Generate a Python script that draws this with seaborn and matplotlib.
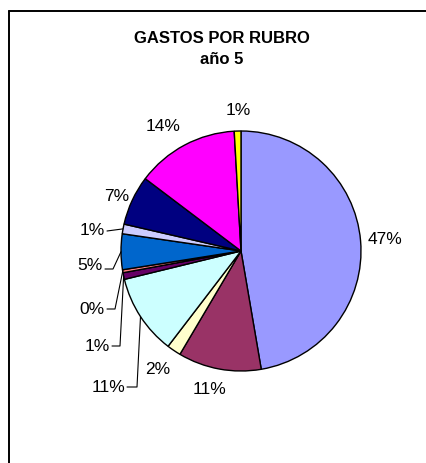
import matplotlib
matplotlib.use("Agg")
import matplotlib.pyplot as plt
import seaborn as sns
import numpy as np

# data (share of each expense item, year 5)
shares = [47.3, 11.2, 1.9, 10.8, 0.9, 0.4, 4.8, 1.3, 6.7, 13.8, 0.9]
pct_labels = ["47%", "11%", "2%", "11%", "1%", "0%", "5%", "1%", "7%", "14%", "1%"]
colors = ["#9999FF", "#993366", "#FFFFCC", "#CCFFFF", "#660066", "#FF8080",
          "#0066CC", "#CCCCFF", "#000080", "#FF00FF", "#FFFF00"]

sns.set_theme(style="white")
plt.rcParams['font.family'] = ['Liberation Sans', 'DejaVu Sans']
plt.rcParams['text.color'] = 'black'

W, H = 427, 464
fig = plt.figure(figsize=(W / 100, H / 100), dpi=100)

# pie geometry in pixels
cx, cy, R = 241.0, 252.0, 120.0
ax = fig.add_axes([(cx - R) / W, (H - cy - R) / H, 2 * R / W, 2 * R / H])

wedges, _ = ax.pie(shares, colors=colors, startangle=90, counterclock=False,
                   radius=1.0, wedgeprops=dict(edgecolor='black', linewidth=1.0))
ax.set_xlim(-1, 1)
ax.set_ylim(-1, 1)
ax.set_aspect('equal')
ax.axis('off')


def px(x, y):
    return (x - cx) / R, (cy - y) / R


# label layout in pixels: centre for plain labels, right end for leader labels
label_pos = [(385, 240), (210, 390), (158, 370), (125, 388), (110, 347),
             (105, 310), (103, 266), (105, 231), (117, 197), (163, 127), (238, 111)]
leader = [False, False, False, True, True, True, True, True, False, False, False]
stub = [0, 0, 0, 10, 8, 8, 8, 0, 0, 0, 0]
line_dy = [0, 0, 0, 0, 0, 0, 4, 1, 0, 0, 0]

for i, w in enumerate(wedges):
    lx, ly = label_pos[i]
    if leader[i]:
        mid = np.deg2rad((w.theta1 + w.theta2) / 2)
        ex, ey = np.cos(mid), np.sin(mid)
        tx, ty = px(lx + 2, ly + line_dy[i])
        bx, by = px(lx + 2 + stub[i], ly + line_dy[i])
        ax.plot([tx, bx, ex], [ty, by, ey], color='black', lw=0.8, clip_on=False)
        ax.text(*px(lx, ly), pct_labels[i], ha='right', va='center',
                fontsize=12.5, color='black')
    else:
        ax.text(*px(lx, ly), pct_labels[i], ha='center', va='center',
                fontsize=12.5, color='black')

fig.text(222 / W, 1 - 38.5 / H, "GASTOS POR RUBRO", ha='center', va='center',
         fontsize=12, fontweight='bold', color='black')
fig.text(222 / W, 1 - 60 / H, "año 5", ha='center', va='center',
         fontsize=12, fontweight='bold', color='black')

# chart area border (only top and left are visible in the crop)
fig.add_artist(plt.Line2D([9.5 / W, 1], [1 - 11.5 / H, 1 - 11.5 / H],
                          color='black', lw=1.4, transform=fig.transFigure))
fig.add_artist(plt.Line2D([9.5 / W, 9.5 / W], [0, 1 - 11.5 / H],
                          color='black', lw=1.4, transform=fig.transFigure))

fig.savefig("out.png", dpi=100, facecolor='white')
